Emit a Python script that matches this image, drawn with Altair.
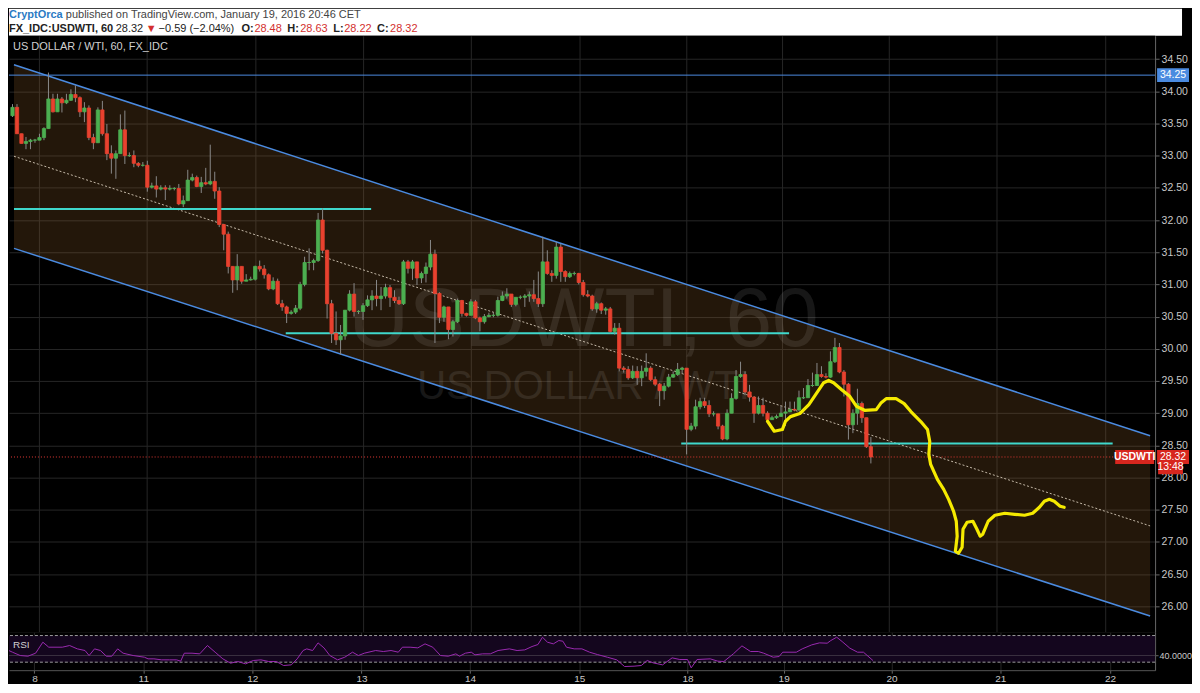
import altair as alt
import pandas as pd

# ------------------------------------------------------------------ data
# hourly candles (bar index 0..191), closes / highs / lows
first_open = 33.62
close = [
    33.75, 33.34, 33.19, 33.22, 33.24, 33.24, 33.28, 33.42, 33.88, 33.68,
    33.88, 33.82, 33.86, 33.95, 33.90, 33.68, 33.74, 33.28, 33.20, 33.71,
    33.34, 33.03, 32.96, 33.03, 33.40, 33.00, 33.00, 32.88, 32.85, 32.85,
    32.51, 32.53, 32.48, 32.50, 32.48, 32.49, 32.49, 32.25, 32.30, 32.62,
    32.66, 32.52, 32.58, 32.56, 32.60, 32.45, 31.93, 31.78, 31.28, 31.07,
    31.28, 31.05, 31.07, 31.08, 31.28, 31.24, 31.15, 30.93, 31.05, 30.70,
    30.65, 30.55, 30.57, 30.63, 31.00, 31.34, 31.34, 31.37, 32.00, 31.53,
    30.70, 30.24, 30.14, 30.20, 30.60, 30.85, 30.58, 30.58, 30.67, 30.76,
    30.82, 30.78, 30.82, 30.95, 30.80, 30.75, 30.70, 31.35, 31.25, 31.35,
    31.10, 31.17, 31.27, 31.47, 30.86, 30.49, 30.65, 30.30, 30.42, 30.75,
    30.55, 30.52, 30.73, 30.48, 30.42, 30.50, 30.52, 30.52, 30.75, 30.82,
    30.85, 30.69, 30.80, 30.80, 30.82, 30.84, 30.78, 30.70, 31.35, 31.17,
    31.14, 31.58, 31.20, 31.12, 31.17, 31.17, 31.03, 30.84, 30.82, 30.62,
    30.70, 30.60, 30.62, 30.27, 30.32, 29.70, 29.68, 29.55, 29.65, 29.55,
    29.65, 29.70, 29.52, 29.45, 29.35, 29.42, 29.56, 29.60, 29.68, 29.70,
    28.75, 28.80, 29.10, 29.18, 29.12, 28.99, 28.99, 28.80, 28.60, 29.00,
    29.23, 29.57, 29.60, 29.33, 29.25, 29.00, 29.12, 29.00, 28.90, 28.93,
    28.95, 29.00, 29.02, 29.06, 29.05, 29.24, 29.24, 29.43, 29.43, 29.60,
    29.57, 29.56, 29.80, 30.02, 29.64, 29.45, 28.82, 29.00, 29.15, 28.93,
    28.48, 28.32]
high = [
    33.80, 33.80, 33.34, 33.29, 33.26, 33.26, 33.34, 33.44, 34.29, 33.96,
    33.96, 33.91, 33.96, 34.03, 34.09, 33.92, 33.83, 33.78, 33.34, 33.75,
    33.85, 33.49, 33.16, 33.08, 33.64, 33.70, 33.05, 33.08, 32.90, 32.90,
    32.92, 32.58, 32.68, 32.54, 32.54, 32.54, 32.51, 32.56, 32.38, 32.78,
    32.72, 32.69, 32.67, 32.81, 33.17, 32.75, 32.51, 31.94, 31.82, 31.28,
    31.47, 31.28, 31.16, 31.12, 31.29, 31.37, 31.30, 31.17, 31.11, 31.09,
    30.76, 30.67, 30.60, 30.68, 31.04, 31.43, 31.56, 31.40, 32.11, 32.18,
    31.54, 30.76, 30.58, 30.37, 30.60, 30.91, 31.02, 30.60, 30.71, 30.83,
    30.91, 31.07, 30.96, 31.01, 30.99, 30.91, 30.81, 31.38, 31.38, 31.38,
    31.34, 31.20, 31.34, 31.69, 31.54, 30.88, 30.67, 30.65, 30.45, 30.78,
    30.76, 30.56, 30.77, 30.76, 30.50, 30.54, 30.56, 30.56, 30.81, 30.89,
    30.94, 30.85, 30.80, 30.83, 30.85, 30.89, 31.07, 31.20, 31.74, 31.53,
    31.22, 31.66, 31.63, 31.22, 31.20, 31.20, 31.18, 31.07, 30.91, 30.84,
    30.73, 30.72, 30.65, 30.65, 30.40, 30.40, 29.73, 29.73, 29.74, 29.73,
    29.74, 29.93, 29.73, 29.57, 29.47, 29.47, 29.61, 29.65, 29.78, 29.72,
    29.66, 28.85, 29.21, 29.24, 29.24, 29.20, 29.03, 28.99, 28.82, 29.06,
    29.31, 29.67, 29.80, 29.65, 29.44, 29.26, 29.26, 29.24, 29.03, 28.96,
    28.98, 29.11, 29.18, 29.18, 29.18, 29.35, 29.39, 29.53, 29.63, 29.78,
    29.73, 29.62, 29.96, 30.17, 30.09, 29.67, 29.47, 29.06, 29.38, 29.18,
    28.93, 28.63]
low = [
    33.60, 33.34, 33.19, 33.10, 33.10, 33.20, 33.24, 33.24, 33.42, 33.67,
    33.69, 33.67, 33.80, 33.85, 33.83, 33.60, 33.52, 33.24, 33.10, 33.20,
    33.31, 32.93, 32.72, 32.64, 33.03, 32.87, 32.98, 32.82, 32.82, 32.83,
    32.44, 32.49, 32.35, 32.46, 32.31, 32.46, 32.46, 32.23, 32.20, 32.30,
    32.60, 32.51, 32.42, 32.54, 32.54, 32.33, 31.89, 31.53, 31.17, 30.87,
    30.91, 31.01, 31.05, 31.06, 31.06, 31.20, 31.09, 30.91, 30.91, 30.68,
    30.59, 30.40, 30.53, 30.54, 30.60, 30.97, 31.22, 31.22, 31.35, 31.48,
    30.47, 30.09, 30.06, 29.91, 30.14, 30.58, 30.50, 30.54, 30.45, 30.65,
    30.60, 30.66, 30.60, 30.78, 30.65, 30.71, 30.68, 30.68, 31.17, 31.07,
    30.99, 31.02, 31.03, 31.22, 30.09, 30.40, 30.42, 30.15, 30.19, 30.40,
    30.50, 30.50, 30.52, 30.46, 30.27, 30.39, 30.49, 30.49, 30.50, 30.74,
    30.78, 30.65, 30.66, 30.77, 30.65, 30.73, 30.73, 30.65, 30.65, 31.15,
    31.04, 31.09, 31.04, 31.04, 31.10, 31.14, 31.00, 30.81, 30.80, 30.59,
    30.56, 30.54, 30.53, 30.24, 30.22, 29.65, 29.63, 29.52, 29.53, 29.44,
    29.42, 29.57, 29.50, 29.42, 29.11, 29.21, 29.40, 29.55, 29.58, 29.62,
    28.36, 28.72, 28.75, 29.06, 29.08, 28.94, 28.95, 28.75, 28.58, 28.58,
    29.00, 29.21, 29.55, 29.28, 29.18, 28.85, 28.98, 28.95, 28.86, 28.90,
    28.91, 28.95, 28.80, 29.02, 29.03, 29.03, 29.22, 29.24, 29.41, 29.43,
    29.55, 29.54, 29.55, 29.78, 29.62, 29.26, 28.59, 28.69, 28.82, 28.85,
    28.46, 28.22]

# day labels on the time axis (bar-index position of each session start)
day_pos = [5.94, 29.95, 54.0, 78.1, 102.0, 126.1, 150.0, 171.2, 195.0, 219.0, 243.2]
day_lab = ["8", "11", "12", "13", "14", "15", "18", "19", "20", "21", "22"]

# price axis ticks
price_ticks = [26.0, 26.5, 27.0, 27.5, 28.0, 28.5, 29.0, 29.5, 30.0,
               30.5, 31.0, 31.5, 32.0, 32.5, 33.0, 33.5, 34.0, 34.5]

# descending channel (endpoints)
chan_i = [0.33, 253.13]
chan_up = [34.41, 28.65]
chan_lo = [31.56, 25.85]
chan_mid = [32.99, 27.25]

# horizontal levels
resist_level = 34.25
seg_start = [0.33, 60.8, 148.8]
seg_end = [79.8, 172.8, 244.8]
seg_price = [32.17, 30.24, 28.53]
last_price = 28.32
countdown_price = 28.16

# hand drawn yellow projection
yel_i = [168.0, 169.5, 171.3, 172.0, 173.1, 175.2, 177.2, 179.0, 180.5, 181.6,
         182.7, 184.5, 186.3, 187.8, 189.6, 192.2, 193.3, 194.4, 196.6, 198.4,
         199.9, 202.1, 203.6, 204.1, 203.9, 204.3, 205.8, 207.2, 208.3, 209.4,
         210.0, 210.2, 209.8, 210.5, 211.3, 211.5, 212.4, 213.7, 214.6, 215.3,
         215.9, 217.1, 218.6, 220.8, 223.0, 225.2, 227.0, 228.5, 229.6, 230.7,
         231.8, 233.1, 234.0]
yel_p = [28.875, 28.72, 28.746, 28.875, 28.947, 28.994, 29.133, 29.319, 29.474, 29.509,
         29.474, 29.365, 29.262, 29.107, 29.045, 29.056, 29.164, 29.226, 29.226, 29.149,
         29.025, 28.87, 28.746, 28.56, 28.359, 28.204, 27.972, 27.817, 27.662, 27.477,
         27.322, 27.09, 26.857, 26.826, 26.919, 27.198, 27.306, 27.322, 27.198, 27.09,
         27.121, 27.322, 27.415, 27.446, 27.43, 27.415, 27.446, 27.539, 27.632, 27.663,
         27.632, 27.554, 27.539]

# RSI trace
rsi_i = [-0.2, 1.1, 2.8, 4.5, 6.2, 7.8, 9.1, 12.1, 13.7, 15.4, 17.1, 18.0, 19.2, 20.5,
         21.8, 23.0, 24.3, 25.5, 27.7, 30.2, 31.0, 32.3, 34.0, 35.7, 37.3, 38.2, 39.0,
         40.7, 42.4, 44.1, 45.8, 47.5, 49.2, 50.8, 52.5, 54.2, 55.9, 57.6, 59.3, 60.9,
         62.6, 63.9, 65.2, 66.0, 67.3, 68.5, 69.8, 71.1, 72.8, 74.4, 76.1, 77.4, 78.7,
         81.2, 82.9, 84.6, 86.2, 87.1, 88.8, 90.5, 92.1, 93.8, 95.5, 97.2, 98.9, 99.7,
         101.0, 102.3, 103.1, 104.8, 106.5, 108.2, 110.7, 112.4, 114.1, 115.7, 117.0,
         118.0, 119.1, 120.4, 121.6, 122.5, 123.3, 125.0, 126.7, 128.4, 130.1,
         132.3, 134.4, 136.1, 138.2, 139.8, 141.1, 142.4, 144.5, 146.6, 148.3, 150.0,
         150.8, 152.1, 155.0, 156.7, 158.0, 160.1, 162.0, 163.9, 165.6, 166.8, 168.9,
         170.2, 171.0, 174.0, 175.3, 177.4, 179.1, 180.8, 181.6, 182.9, 184.1, 185.8,
         187.5, 188.8, 190.9]
rsi_v = [49, 45, 40, 39, 43.5, 60, 52.5, 52.5, 55, 50, 47.5, 40, 50, 47.5, 39, 39, 50,
         43.5, 40, 37.5, 35, 35, 33.5, 33.5, 33.5, 31.5, 43.5, 43.5, 42.5, 55, 45, 35,
         28.5, 31, 27.5, 32.5, 33.5, 31, 31, 25, 26, 35, 47.5, 50, 47.5, 59, 51.5, 40,
         33.5, 37.5, 45, 40, 43.5, 47.5, 46, 47.5, 45, 52.5, 52.5, 51.5, 57.5, 52.5, 40,
         39, 42.5, 39, 43.5, 45, 41, 42.5, 42.5, 47.5, 50, 47.5, 48.5, 53.5, 56.5, 67.5,
         60, 57.5, 62.5, 61.5, 52.5, 50, 50, 45, 41.5,
         37.5, 33.5, 23.5, 24, 25, 32.5, 29, 26, 36.5, 34, 34, 21.5, 34, 35, 31.5, 31,
         42.5, 54.5, 46, 46, 43.5, 37.5, 38.5, 45, 45, 50, 56, 59, 58.5, 62.5, 67.5, 61,
         51, 45, 45, 32.5]
rsi_levels = [70, 30]
rsi_value = 40

# ------------------------------------------------------------------ styling
W = 1149
H_HEAD = 27
H_MAIN = 598
H_RSI = 38
GRID = "#262626"
AXC = "#c8c8c8"
BLUE = "#4b8be0"
CYAN = "#3fd8cc"
RED = "#e8412f"
GREEN = "#4caf50"
BOXRED = "#d7261e"
FONT = "Liberation Sans"

opens = [first_open] + close[:-1]
candles = pd.DataFrame({
    "i": list(range(len(close))),
    "o": opens,
    "c": close,
    "hi": [max(h, o, c) for h, o, c in zip(high, opens, close)],
    "lo": [min(l, o, c) for l, o, c in zip(low, opens, close)],
})
candles["dir"] = ["up" if c >= o else "down" for o, c in zip(candles.o, candles.c)]

xs = alt.Scale(domain=[0.33, 253.13], nice=False, zero=False)
ys = alt.Scale(domain=[25.598, 34.861], nice=False, zero=False)
rs = alt.Scale(domain=[18.0, 74.9], nice=False, zero=False)

ax_x_main = alt.Axis(values=day_pos, labels=False, ticks=False, domain=True,
                     domainColor="#4a4a4a", grid=True, gridColor=GRID, title=None)
ax_y_main = alt.Axis(orient="right", values=price_ticks, format=".2f", grid=True,
                     gridColor=GRID, labelColor=AXC, labelFont=FONT, labelFontSize=10.5,
                     tickColor="#666", tickSize=4, domainColor="#666", labelPadding=2,
                     title=None)
label_expr = "[" + ",".join("'%s'" % s for s in day_lab) + "][indexof([" + \
    ",".join(str(p) for p in day_pos) + "], datum.value)]"
ax_x_rsi = alt.Axis(values=day_pos, labelExpr=label_expr, grid=True, gridColor=GRID,
                    tickColor="#666", tickSize=3, domainColor="#555", labelColor=AXC,
                    labelFont=FONT, labelFontSize=10, labelPadding=0, title=None)
ax_y_rsi = alt.Axis(orient="right", values=[rsi_value], format=".4f", grid=False,
                    labelColor=AXC, labelFont=FONT, labelFontSize=9, tickColor="#666",
                    tickSize=3, domainColor="#666", labelPadding=1, title=None)


def X(f):
    return alt.X(f, type="quantitative", scale=xs, axis=ax_x_main)


def Y(f):
    return alt.Y(f, type="quantitative", scale=ys, axis=ax_y_main)


one = pd.DataFrame({"a": [0]})
chan = pd.DataFrame({"i": chan_i, "up": chan_up, "lo": chan_lo, "mid": chan_mid})

area = alt.Chart(chan).mark_area(color="#a06a2c", opacity=0.22).encode(
    x=X("i"), y=Y("up"), y2="lo")

wm1 = alt.Chart(one).mark_text(text="USDWTI, 60", font=FONT, fontSize=84, color="#ffffff",
                               opacity=0.09, align="center", baseline="alphabetic").encode(
    x=alt.value(576), y=alt.value(311))
wm2 = alt.Chart(one).mark_text(text="US DOLLAR / WTI", font=FONT, fontSize=40, color="#ffffff",
                               opacity=0.09, align="center", baseline="alphabetic").encode(
    x=alt.value(576), y=alt.value(364))

up_line = alt.Chart(chan).mark_line(color=BLUE, strokeWidth=1.5).encode(x=X("i"), y=Y("up"))
lo_line = alt.Chart(chan).mark_line(color=BLUE, strokeWidth=1.5).encode(x=X("i"), y=Y("lo"))
mid_line = alt.Chart(chan).mark_line(color="#c4b9a8", strokeWidth=1, strokeDash=[2, 2]).encode(
    x=X("i"), y=Y("mid"))

res = alt.Chart(pd.DataFrame({"p": [resist_level]})).mark_rule(color=BLUE, strokeWidth=1).encode(
    y=Y("p"))
segs = alt.Chart(pd.DataFrame({"a": seg_start, "b": seg_end, "p": seg_price})).mark_rule(
    color=CYAN, strokeWidth=2).encode(x=X("a"), x2="b", y=Y("p"))
pline = alt.Chart(pd.DataFrame({"p": [last_price]})).mark_rule(
    color="#e53935", strokeWidth=1, strokeDash=[1, 2]).encode(y=Y("p"))

wick = alt.Chart(candles).mark_rule(color="#8a8a8a", strokeWidth=1, clip=True).encode(
    x=X("i"), y=Y("lo"), y2="hi")
cscale = alt.Scale(domain=["up", "down"], range=[GREEN, RED])
body = alt.Chart(candles).mark_bar(size=3.3, strokeWidth=0.8, clip=True).encode(
    x=X("i"), y=Y("o"), y2="c",
    color=alt.Color("dir:N", scale=cscale, legend=None),
    stroke=alt.Stroke("dir:N", scale=cscale, legend=None))

yel = alt.Chart(pd.DataFrame({"i": yel_i, "p": yel_p, "k": list(range(len(yel_i)))})).mark_line(
    color="#f5ea00", strokeWidth=3.2, strokeCap="round", strokeJoin="round").encode(
    x=X("i"), y=Y("p"), order="k:Q")

title_txt = alt.Chart(one).mark_text(text="US DOLLAR / WTI, 60, FX_IDC", font=FONT, fontSize=11,
                                     color="#d0d0d0", align="left", baseline="middle").encode(
    x=alt.value(4), y=alt.value(11))


def price_box(price, label, x0, x1, color, bold=False):
    d = pd.DataFrame({"p": [price], "lab": [label]})
    base = alt.Chart(d).transform_calculate(top="datum.p + 0.108", bot="datum.p - 0.108")
    r = base.mark_rect(color=color).encode(x=alt.value(x0), x2=alt.value(x1),
                                           y=Y("top"), y2="bot")
    t = base.mark_text(color="white", font=FONT, fontSize=10.5, align="center",
                       baseline="middle", fontWeight="bold" if bold else "normal").encode(
        x=alt.value((x0 + x1) / 2), y=Y("p"), text="lab:N")
    return [r, t]


boxes = (price_box(resist_level, "34.25", 1151, 1183, BLUE)
         + price_box(last_price, "USDWTI", 1109, 1148, BOXRED, True)
         + price_box(last_price, "28.32", 1151, 1183, BOXRED)
         + price_box(countdown_price, "13:48", 1152, 1177, BOXRED))

main = alt.layer(area, wm1, wm2, mid_line, up_line, lo_line, res, segs, pline,
                 wick, body, yel, title_txt, *boxes).properties(width=W, height=H_MAIN)

# ---- RSI pane
def XR(f):
    return alt.X(f, type="quantitative", scale=xs, axis=ax_x_rsi)


def YR(f):
    return alt.Y(f, type="quantitative", scale=rs, axis=ax_y_rsi)


band = alt.Chart(pd.DataFrame({"a": [rsi_levels[0]], "b": [rsi_levels[1]]})).mark_rect(
    color="#14061e").encode(x=alt.value(0), x2=alt.value(W), y=YR("a"), y2="b")
lv = alt.Chart(pd.DataFrame({"v": rsi_levels})).mark_rule(
    color="#9a9a9a", strokeDash=[3, 2], strokeWidth=1).encode(y=YR("v"))
cur = alt.Chart(pd.DataFrame({"v": [rsi_value]})).mark_rule(color="#3a3040", strokeWidth=1).encode(
    y=YR("v"))
rline = alt.Chart(pd.DataFrame({"i": rsi_i, "v": rsi_v})).mark_line(
    color="#9a2ab0", strokeWidth=1, clip=True).encode(x=XR("i"), y=YR("v"))
rsi_txt = alt.Chart(one).mark_text(text="RSI", font=FONT, fontSize=10, color="#d0d0d0",
                                   align="left", baseline="middle").encode(
    x=alt.value(4), y=alt.value(13))
rsi = alt.layer(band, lv, cur, rline, rsi_txt).properties(width=W, height=H_RSI)

# ---- header
HF = "Liberation Sans"


def htxt(text, x, y, color="#333333", weight="normal", size=11):
    return alt.Chart(one).mark_text(text=text, font=HF, fontSize=size, color=color,
                                    fontWeight=weight, align="left", baseline="middle").encode(
        x=alt.value(x), y=alt.value(y))


header = alt.layer(
    htxt("CryptOrca", 0, 6, "#2b7bc4", "bold"),
    htxt("published on TradingView.com, January 19, 2016 20:46 CET", 57, 6, "#444444"),
    htxt("FX_IDC:USDWTI, 60", 0, 20, "#222222", "bold"),
    htxt("28.32", 107, 20, "#222222"),
    htxt("\u25bc", 137, 20, "#d32f2f"),
    htxt("\u22120.59 (\u22122.04%)", 150, 20, "#222222"),
    htxt("O:", 233, 20, "#222222", "bold"),
    htxt("28.48", 246, 20, "#d32f2f"),
    htxt("H:", 279, 20, "#222222", "bold"),
    htxt("28.63", 292, 20, "#d32f2f"),
    htxt("L:", 325, 20, "#222222", "bold"),
    htxt("28.22", 336, 20, "#d32f2f"),
    htxt("C:", 369, 20, "#222222", "bold"),
    htxt("28.32", 382, 20, "#d32f2f"),
).properties(width=1176, height=H_HEAD, view=alt.ViewBackground(fill="#ffffff", stroke=None))

chart = alt.vconcat(header, main, rsi, spacing=0, bounds="flush", padding=0).configure(
    background="#000000").configure_view(stroke=None, fill="#000000")

chart.save("out.html", embed_options={"renderer": "svg", "actions": False})
